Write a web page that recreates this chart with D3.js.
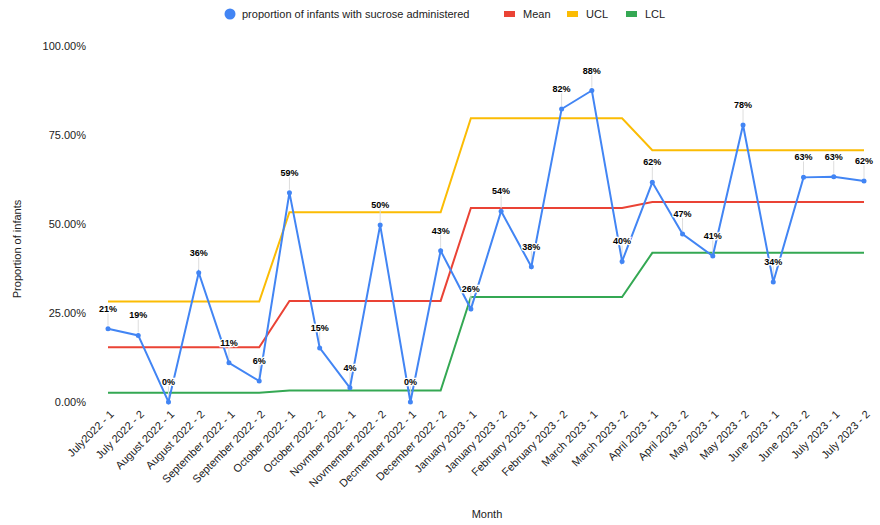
<!DOCTYPE html>
<html>
<head>
<meta charset="utf-8">
<script src="https://cdn.jsdelivr.net/npm/d3@7.9.0/dist/d3.min.js"></script>
<style>
  body { margin: 0; background: #fff; }
  svg { font-family: "Liberation Sans", Arial, sans-serif; }
</style>
</head>
<body>
<svg id="chart" width="880" height="525"></svg>
<script>
const months = [
  'July2022 - 1', 'July 2022 - 2', 'August 2022 - 1', 'August 2022 - 2',
  'September 2022 - 1', 'September 2022 - 2', 'October 2022 - 1', 'October 2022 - 2',
  'Novmber 2022 - 1', 'Novmember 2022 - 2', 'Decmember 2022 - 1', 'December 2022 - 2',
  'January 2023 - 1', 'January 2023 - 2', 'February 2023 - 1', 'February 2023 - 2',
  'March 2023 - 1', 'March 2023 - 2', 'April 2023 - 1', 'April 2023 - 2',
  'May 2023 - 1', 'May 2023 - 2', 'June 2023 - 1', 'June 2023 - 2',
  'July 2023 - 1', 'July 2023 - 2'
];
const proportion = [
  0.206, 0.187, 0.0, 0.363, 0.11, 0.059, 0.588, 0.152, 0.04, 0.497, 0.0, 0.425,
  0.261, 0.536, 0.38, 0.823, 0.875, 0.395, 0.617, 0.472, 0.41, 0.778, 0.337, 0.631,
  0.633, 0.621
];
const mean = [
  0.154, 0.154, 0.154, 0.154, 0.154, 0.154, 0.284, 0.284, 0.284, 0.284, 0.284, 0.284,
  0.545, 0.545, 0.545, 0.545, 0.545, 0.545, 0.562, 0.562, 0.562, 0.562, 0.562, 0.562,
  0.562, 0.562
];
const ucl = [
  0.282, 0.282, 0.282, 0.282, 0.282, 0.282, 0.533, 0.533, 0.533, 0.533, 0.533, 0.533,
  0.797, 0.797, 0.797, 0.797, 0.797, 0.797, 0.707, 0.707, 0.707, 0.707, 0.707, 0.707,
  0.707, 0.707
];
const lcl = [
  0.026, 0.026, 0.026, 0.026, 0.026, 0.026, 0.032, 0.032, 0.032, 0.032, 0.032, 0.032,
  0.295, 0.295, 0.295, 0.295, 0.295, 0.295, 0.419, 0.419, 0.419, 0.419, 0.419, 0.419,
  0.419, 0.419
];
const yTicks = [0, 0.25, 0.5, 0.75, 1];

const svg = d3.select('#chart');

let x = d3.scalePoint().domain(months).range([108, 864]);
let y = d3.scaleLinear().domain([0, 1]).range([402, 46]);

// y axis labels
svg.append('g')
  .attr('transform', 'translate(96,0)')
  .call(d3.axisLeft(y).tickValues(yTicks).tickFormat(d3.format('.2%')).tickSize(0).tickPadding(10))
  .call(g => g.select('.domain').remove())
  .call(g => g.selectAll('text').attr('font-size', 11).attr('fill', '#222')
    .attr('font-family', '"Liberation Sans", Arial, sans-serif'));

// x axis labels
svg.append('g')
  .attr('transform', 'translate(0,402)')
  .call(d3.axisBottom(x).tickSize(0).tickPadding(0))
  .call(g => g.select('.domain').remove())
  .call(g => g.selectAll('text')
    .attr('font-size', 11).attr('fill', '#222')
    .attr('font-family', '"Liberation Sans", Arial, sans-serif')
    .attr('text-anchor', 'end')
    .attr('dy', null).attr('y', 0)
    .attr('transform', 'translate(6,13) rotate(-45)'));

// axis titles
svg.append('text')
  .attr('x', 487).attr('y', 518)
  .attr('text-anchor', 'middle').attr('font-size', 11).attr('fill', '#222')
  .text('Month');
svg.append('text')
  .attr('transform', 'translate(21,249) rotate(-90)')
  .attr('text-anchor', 'middle').attr('font-size', 11).attr('fill', '#222')
  .text('Proportion of infants');

const lineGen = d3.line().x((d, i) => x(months[i])).y(d => y(d));

const controlSeries = [
  { values: mean, color: '#EA4335' },
  { values: ucl, color: '#FBBC04' },
  { values: lcl, color: '#34A853' }
];
controlSeries.forEach(s => {
  svg.append('path')
    .attr('d', lineGen(s.values))
    .attr('fill', 'none')
    .attr('stroke', s.color)
    .attr('stroke-width', 2);
});

// leader lines for data labels
svg.append('g').selectAll('line')
  .data(proportion)
  .join('line')
  .attr('x1', (d, i) => x(months[i]))
  .attr('x2', (d, i) => x(months[i]))
  .attr('y1', d => y(d) - 3)
  .attr('y2', d => y(d) - 16)
  .attr('stroke', '#ddd')
  .attr('stroke-width', 1);

svg.append('path')
  .attr('d', lineGen(proportion))
  .attr('fill', 'none')
  .attr('stroke', '#4285F4')
  .attr('stroke-width', 2);

svg.append('g').selectAll('circle')
  .data(proportion)
  .join('circle')
  .attr('cx', (d, i) => x(months[i]))
  .attr('cy', d => y(d))
  .attr('r', 2.5)
  .attr('fill', '#4285F4');

// data labels
svg.append('g').selectAll('text')
  .data(proportion)
  .join('text')
  .attr('x', (d, i) => x(months[i]))
  .attr('y', d => y(d) - 17)
  .attr('text-anchor', 'middle')
  .attr('font-size', 9)
  .attr('font-weight', 'bold')
  .attr('fill', '#000')
  .attr('stroke', '#fff')
  .attr('stroke-width', 2.5)
  .attr('paint-order', 'stroke')
  .text(d => d3.format('.0%')(d));

// legend
const legend = svg.append('g').attr('font-size', 11).attr('fill', '#222');
legend.append('circle').attr('cx', 230).attr('cy', 14).attr('r', 5.5).attr('fill', '#4285F4');
legend.append('text').attr('x', 242).attr('y', 18).text('proportion of infants with sucrose administered');
const legendItems = [
  { label: 'Mean', color: '#EA4335', x: 504 },
  { label: 'UCL', color: '#FBBC04', x: 567 },
  { label: 'LCL', color: '#34A853', x: 626 }
];
legendItems.forEach(item => {
  legend.append('rect').attr('x', item.x).attr('y', 11).attr('width', 11).attr('height', 6).attr('fill', item.color);
  legend.append('text').attr('x', item.x + 19).attr('y', 18).text(item.label);
});
</script>
</body>
</html>
